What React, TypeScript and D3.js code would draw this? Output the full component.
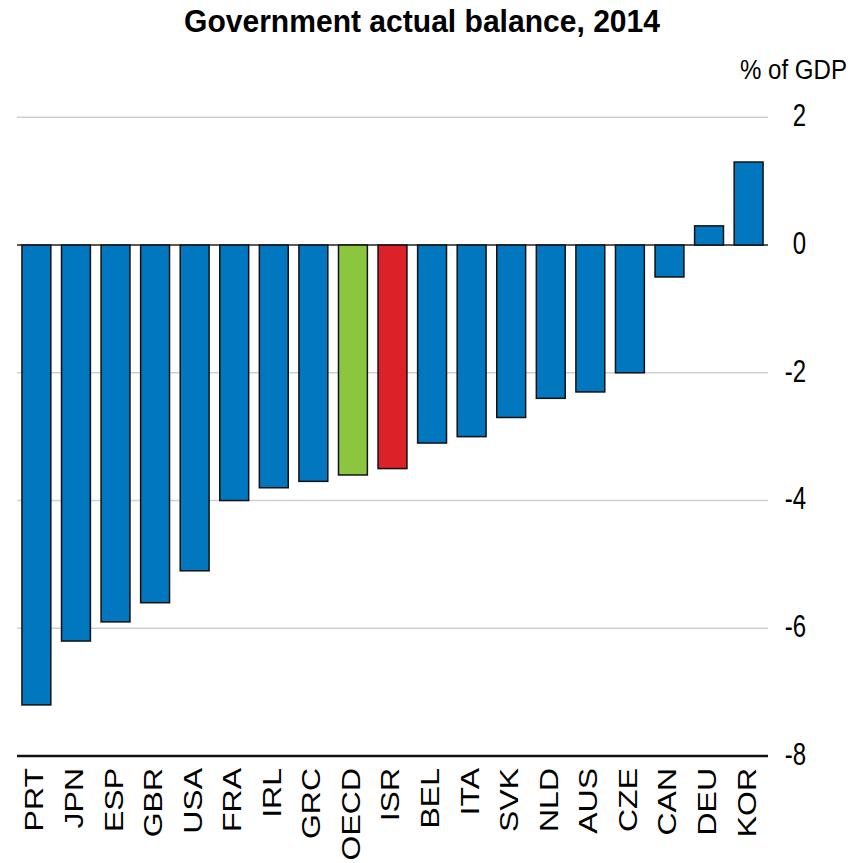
import React from "react";
import * as d3 from "d3";

const countries = ["PRT","JPN","ESP","GBR","USA","FRA","IRL","GRC","OECD","ISR","BEL","ITA","SVK","NLD","AUS","CZE","CAN","DEU","KOR"];
const balance = [-7.2,-6.2,-5.9,-5.6,-5.1,-4.0,-3.8,-3.7,-3.6,-3.5,-3.1,-3.0,-2.7,-2.4,-2.3,-2.0,-0.5,0.3,1.3];
const yTicks = [2, 0, -2, -4, -6, -8];
const titleText = "Government actual balance, 2014";
const unitText = "% of GDP";

const W = 868, H = 863;
const FONT = "'Liberation Sans', Arial, Helvetica, sans-serif";

export default function App() {
  const x = d3.scaleBand<string>().domain(countries).range([17, 768]).paddingInner(0.27).paddingOuter(0.125);
  const y = d3.scaleLinear().domain([-8, 2]).range([756, 117.3]);
  const colorOf = (c: string) => (c === "OECD" ? "#8cc63f" : c === "ISR" ? "#dc2228" : "#0077be");

  return (
    <svg width={W} height={H} style={{ position: "absolute", left: 0, top: 0, background: "#fff" }} fontFamily={FONT}>
      <text transform="translate(422,32) scale(1,1.05)" textAnchor="middle" fontWeight="bold" fontSize={29} textLength={476} lengthAdjust="spacingAndGlyphs" fill="#000">{titleText}</text>
      <text x={847} y={79} textAnchor="end" fontSize={27} textLength={107} lengthAdjust="spacingAndGlyphs" fill="#000">{unitText}</text>
      {yTicks.filter(t => t !== 0 && t !== -8).map(t => (
        <line key={"g" + t} x1={17} x2={768} y1={y(t)} y2={y(t)} stroke="#d0d0d0" strokeWidth={1.5} />
      ))}
      <line x1={17} x2={768} y1={y(0)} y2={y(0)} stroke="#222" strokeWidth={1.5} />
      {countries.map((c, i) => {
        const v = balance[i];
        const y0 = y(Math.max(0, v));
        const y1 = y(Math.min(0, v));
        return (
          <rect key={c} x={x(c)} y={y0} width={x.bandwidth()} height={y1 - y0} fill={colorOf(c)} stroke="#111" strokeWidth={1.5} />
        );
      })}
      <line x1={17} x2={768} y1={y(-8)} y2={y(-8)} stroke="#111" strokeWidth={2.5} />
      {yTicks.map(t => (
        <text key={"t" + t} transform={`translate(806,${y(t)}) scale(0.75,1)`} textAnchor="end" dy="0.28em" fontSize={32} fill="#000">{String(t)}</text>
      ))}
      {countries.map(c => (
        <text key={"l" + c} transform={`translate(${(x(c) as number) + x.bandwidth() / 2 - 2},768) scale(0.78,1) rotate(-90)`} textAnchor="end" dy="0.36em" fontSize={32} fill="#000">{c}</text>
      ))}
    </svg>
  );
}
